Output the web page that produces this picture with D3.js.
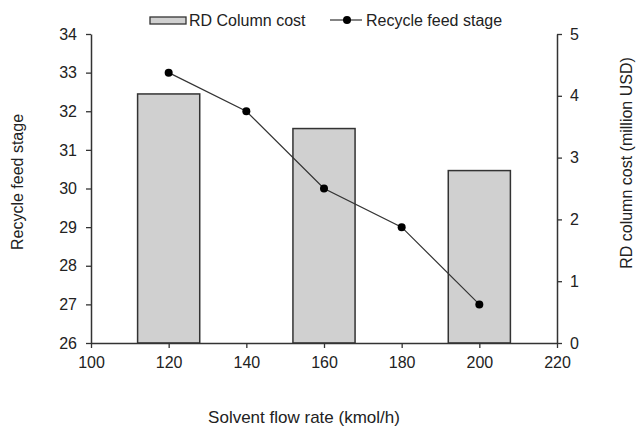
<!DOCTYPE html>
<html>
<head>
<meta charset="utf-8">
<script src="https://cdn.jsdelivr.net/npm/d3@7"></script>
<style>
  body { margin: 0; background: #fff; }
  svg text { font-family: "Liberation Sans", Arial, sans-serif; fill: #222; }
</style>
</head>
<body>
<svg id="chart" width="637" height="427"></svg>
<script>
// data
var flowRates = [120, 140, 160, 180, 200];
var feedStage = [33, 32, 30, 29, 27];
var costFlows = [120, 160, 200];
var columnCost = [4.03, 3.47, 2.79];
var xTicks = [100, 120, 140, 160, 180, 200, 220];
var leftTicks = [26, 27, 28, 29, 30, 31, 32, 33, 34];
var rightTicks = [0, 1, 2, 3, 4, 5];

var svg = d3.select("#chart");
var plotLeft = 91, plotRight = 557, plotTop = 34, plotBottom = 343;

var x = d3.scaleLinear().domain([100, 220]).range([plotLeft, plotRight]);
var yL = d3.scaleLinear().domain([26, 34]).range([plotBottom, plotTop]);
var yR = d3.scaleLinear().domain([0, 5]).range([plotBottom, plotTop]);

// bars (16 kmol/h wide)
svg.selectAll("rect.bar")
  .data(costFlows)
  .enter().append("rect")
  .attr("class", "bar")
  .attr("x", function(d){ return x(d - 8); })
  .attr("width", function(d){ return x(d + 8) - x(d - 8); })
  .attr("y", function(d, i){ return yR(columnCost[i]); })
  .attr("height", function(d, i){ return plotBottom - yR(columnCost[i]); })
  .attr("fill", "#d0d0d0")
  .attr("stroke", "#333")
  .attr("stroke-width", 1.5);

// axes
function styleAxis(g){
  g.selectAll("path, line").attr("stroke", "#333").attr("stroke-width", 1.3);
  g.selectAll("text").style("font-size", "16px").attr("fill", "#222").attr("font-family", null);
  g.select(".domain").attr("stroke-width", 1.5);
}
svg.append("g")
  .attr("transform", "translate(0," + plotBottom + ")")
  .call(d3.axisBottom(x).tickValues(xTicks).tickSize(5).tickSizeOuter(0).tickPadding(9))
  .call(styleAxis);
svg.append("g")
  .attr("transform", "translate(" + plotLeft + ",0)")
  .call(d3.axisLeft(yL).tickValues(leftTicks).tickSize(5).tickSizeOuter(0).tickPadding(9))
  .call(styleAxis);
svg.append("g")
  .attr("transform", "translate(" + plotRight + ",0)")
  .call(d3.axisRight(yR).tickValues(rightTicks).tickFormat(d3.format("d")).tickSize(5).tickSizeOuter(0).tickPadding(8))
  .call(styleAxis);

// line + markers
var line = d3.line()
  .x(function(d){ return x(d); })
  .y(function(d, i){ return yL(feedStage[i]); });
svg.append("path")
  .datum(flowRates)
  .attr("d", line)
  .attr("fill", "none")
  .attr("stroke", "#333")
  .attr("stroke-width", 1.2);
svg.selectAll("circle.pt")
  .data(flowRates)
  .enter().append("circle")
  .attr("class", "pt")
  .attr("cx", function(d){ return x(d); })
  .attr("cy", function(d, i){ return yL(feedStage[i]); })
  .attr("r", 4)
  .attr("fill", "#000");

// axis titles
svg.append("text")
  .attr("transform", "translate(23,182) rotate(-90)")
  .attr("text-anchor", "middle")
  .style("font-size", "16px")
  .text("Recycle feed stage");
svg.append("text")
  .attr("transform", "translate(632,163) rotate(-90)")
  .attr("text-anchor", "middle")
  .style("font-size", "16px")
  .text("RD column cost (million USD)");
svg.append("text")
  .attr("x", 304).attr("y", 423)
  .attr("text-anchor", "middle")
  .style("font-size", "17px")
  .text("Solvent flow rate (kmol/h)");

// legend
var lg = svg.append("g");
lg.append("rect")
  .attr("x", 150).attr("y", 17).attr("width", 36).attr("height", 7)
  .attr("fill", "#d0d0d0").attr("stroke", "#333").attr("stroke-width", 1.3);
lg.append("text").attr("x", 189).attr("y", 26).style("font-size", "16px").text("RD Column cost");
lg.append("line").attr("x1", 330).attr("x2", 362).attr("y1", 20).attr("y2", 20)
  .attr("stroke", "#333").attr("stroke-width", 1.2);
lg.append("circle").attr("cx", 347).attr("cy", 20).attr("r", 4).attr("fill", "#000");
lg.append("text").attr("x", 366).attr("y", 26).style("font-size", "16px").text("Recycle feed stage");
</script>
</body>
</html>
